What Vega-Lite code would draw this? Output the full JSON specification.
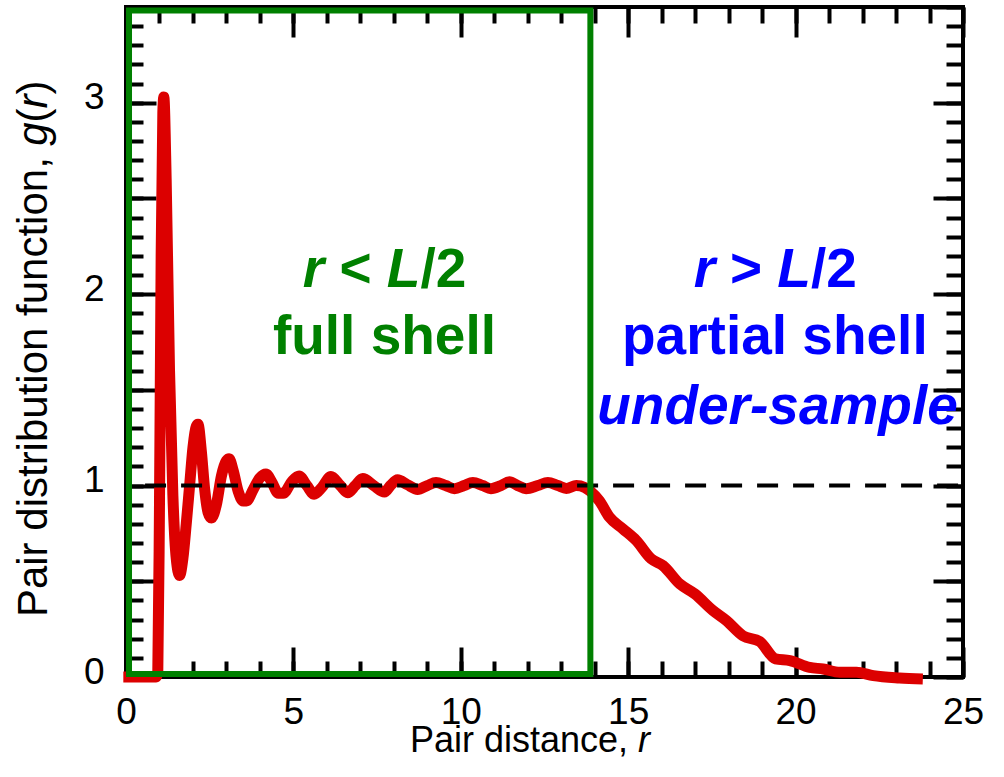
{
  "$schema": "https://vega.github.io/schema/vega-lite/v6.json",
  "width": 837,
  "height": 670,
  "autosize": {"type": "none"},
  "padding": {"left": 126, "top": 7, "right": 41, "bottom": 100},
  "background": "white",
  "config": {
    "font": "Liberation Sans",
    "view": {"stroke": "black", "strokeWidth": 4},
    "axis": {
      "labelFont": "Liberation Sans",
      "labelFontSize": 37,
      "labelColor": "black",
      "tickColor": "black",
      "tickWidth": 4,
      "domain": false,
      "grid": false,
      "title": null,
      "labelFlush": false,
      "labelOverlap": false
    }
  },
  "datasets": {
    "gr": [
      {"r": -0.08, "g": 0}, {"r": 0.5, "g": 0}, {"r": 0.9, "g": 0}, {"r": 0.95, "g": 0.03},
      {"r": 1.0, "g": 0.9}, {"r": 1.05, "g": 2.2}, {"r": 1.1, "g": 2.95}, {"r": 1.13, "g": 3.03},
      {"r": 1.2, "g": 2.6}, {"r": 1.3, "g": 1.6}, {"r": 1.4, "g": 0.95}, {"r": 1.5, "g": 0.62},
      {"r": 1.6, "g": 0.53}, {"r": 1.7, "g": 0.62}, {"r": 1.8, "g": 0.8}, {"r": 1.9, "g": 1.0},
      {"r": 2.0, "g": 1.2}, {"r": 2.1, "g": 1.31}, {"r": 2.15, "g": 1.32}, {"r": 2.25, "g": 1.18},
      {"r": 2.35, "g": 0.98}, {"r": 2.45, "g": 0.86}, {"r": 2.55, "g": 0.83}, {"r": 2.7, "g": 0.9},
      {"r": 2.85, "g": 1.05}, {"r": 3.0, "g": 1.13}, {"r": 3.08, "g": 1.14}, {"r": 3.2, "g": 1.08},
      {"r": 3.35, "g": 0.97}, {"r": 3.5, "g": 0.92}, {"r": 3.6, "g": 0.92}, {"r": 3.8, "g": 0.98},
      {"r": 4.0, "g": 1.04}, {"r": 4.18, "g": 1.06}, {"r": 4.35, "g": 1.02}, {"r": 4.55, "g": 0.96},
      {"r": 4.7, "g": 0.96}, {"r": 4.95, "g": 1.02}, {"r": 5.17, "g": 1.05}, {"r": 5.4, "g": 1.0},
      {"r": 5.62, "g": 0.955}, {"r": 5.85, "g": 0.99}, {"r": 6.12, "g": 1.047}, {"r": 6.4, "g": 1.0},
      {"r": 6.62, "g": 0.963}, {"r": 6.85, "g": 1.0}, {"r": 7.07, "g": 1.037}, {"r": 7.4, "g": 1.0},
      {"r": 7.72, "g": 0.966}, {"r": 7.9, "g": 1.0}, {"r": 8.11, "g": 1.03}, {"r": 8.4, "g": 1.005},
      {"r": 8.71, "g": 0.98}, {"r": 9.0, "g": 1.0}, {"r": 9.26, "g": 1.016}, {"r": 9.55, "g": 1.0},
      {"r": 9.81, "g": 0.984}, {"r": 10.1, "g": 1.0}, {"r": 10.36, "g": 1.016}, {"r": 10.65, "g": 1.0},
      {"r": 10.9, "g": 0.984}, {"r": 11.2, "g": 1.0}, {"r": 11.45, "g": 1.02}, {"r": 11.7, "g": 1.0},
      {"r": 11.95, "g": 0.984}, {"r": 12.3, "g": 1.0}, {"r": 12.6, "g": 1.016}, {"r": 12.9, "g": 1.0},
      {"r": 13.15, "g": 0.985}, {"r": 13.45, "g": 1.0}, {"r": 13.7, "g": 0.99}, {"r": 13.87, "g": 0.97},
      {"r": 14.14, "g": 0.92}, {"r": 14.44, "g": 0.835}, {"r": 14.84, "g": 0.774}, {"r": 15.24, "g": 0.713},
      {"r": 15.69, "g": 0.617}, {"r": 16.04, "g": 0.582}, {"r": 16.54, "g": 0.486}, {"r": 16.99, "g": 0.434},
      {"r": 17.53, "g": 0.347}, {"r": 17.93, "g": 0.295}, {"r": 18.43, "g": 0.215}, {"r": 18.93, "g": 0.185},
      {"r": 19.4, "g": 0.095}, {"r": 19.83, "g": 0.086}, {"r": 20.42, "g": 0.05}, {"r": 20.82, "g": 0.042},
      {"r": 21.32, "g": 0.025}, {"r": 21.82, "g": 0.025}, {"r": 22.32, "g": 0.007}, {"r": 23.1, "g": -0.005},
      {"r": 23.8, "g": -0.01}
    ],
    "unity": [{"r": 0.57, "g": 1}, {"r": 24.95, "g": 1}],
    "half": [{"r0": 0.09, "r1": 13.87, "g0": 0.016, "g1": 3.482}],
    "notes": [
      {"role": "shell", "side": "inner", "r": 7.72, "g": 1.686, "text": "full shell"},
      {"role": "shell", "side": "outer", "r": 19.38, "g": 1.686, "text": "partial shell"},
      {"role": "sample", "side": "outer", "r": 19.46, "g": 1.324, "text": "under-sample"},
      {"role": "symbol", "side": "inner", "r": 5.278, "g": 2.037, "text": "r"},
      {"role": "operator", "side": "inner", "r": 6.374, "g": 2.037, "text": "<"},
      {"role": "symbol", "side": "inner", "r": 7.787, "g": 2.037, "text": "L"},
      {"role": "operator", "side": "inner", "r": 8.793, "g": 2.037, "text": "/2"},
      {"role": "symbol", "side": "outer", "r": 16.959, "g": 2.037, "text": "r"},
      {"role": "operator", "side": "outer", "r": 18.038, "g": 2.037, "text": ">"},
      {"role": "symbol", "side": "outer", "r": 19.453, "g": 2.037, "text": "L"},
      {"role": "operator", "side": "outer", "r": 20.457, "g": 2.037, "text": "/2"}
    ],
    "titles": [
      {"axis": "x", "style": "upright", "r": 8.483, "g": -0.392, "text": "Pair distance,"},
      {"axis": "x", "style": "italic", "r": 15.296, "g": -0.392, "text": "r"},
      {"axis": "y", "style": "upright", "r": -2.36, "g": 0.313, "text": "Pair distribution function,"},
      {"axis": "y", "style": "italic", "r": -2.36, "g": 2.775, "text": "g"},
      {"axis": "y", "style": "upright", "r": -2.36, "g": 2.897, "text": "("},
      {"axis": "y", "style": "italic", "r": -2.36, "g": 2.97, "text": "r"},
      {"axis": "y", "style": "upright", "r": -2.36, "g": 3.043, "text": ")"}
    ]
  },
  "resolve": {
    "scale": {"x": "shared", "y": "shared"},
    "axis": {"x": "independent", "y": "independent"}
  },
  "layer": [
    {
      "data": {"name": "gr"},
      "mark": {"type": "line", "color": "#dc0000", "strokeWidth": 11, "interpolate": "monotone", "clip": false},
      "encoding": {
        "x": {"field": "r", "type": "quantitative", "scale": {"domain": [0, 25], "nice": false, "zero": false},
              "axis": {"orient": "bottom", "values": [0, 5, 10, 15, 20, 25], "ticks": false, "labelPadding": 17}},
        "y": {"field": "g", "type": "quantitative", "scale": {"domain": [0, 3.5], "nice": false, "zero": false},
              "axis": {"orient": "left", "values": [0, 1, 2, 3], "ticks": false, "labelPadding": 22, "labelOffset": -5}}
      }
    },
    {
      "data": {"name": "unity"},
      "mark": {"type": "line", "color": "black", "strokeWidth": 4, "strokeDash": [21, 15]},
      "encoding": {
        "x": {"field": "r", "type": "quantitative", "scale": {"domain": [0, 25], "nice": false, "zero": false},
              "axis": {"orient": "bottom", "values": [0, 5, 10, 15, 20, 25], "tickSize": -30, "labels": false}},
        "y": {"field": "g", "type": "quantitative", "scale": {"domain": [0, 3.5], "nice": false, "zero": false},
              "axis": {"orient": "left", "values": [0, 0.5, 1, 1.5, 2, 2.5, 3, 3.5], "tickSize": -30, "labels": false}}
      }
    },
    {
      "data": {"name": "half"},
      "mark": {"type": "rect", "filled": false, "stroke": "#008000", "strokeWidth": 6},
      "encoding": {
        "x": {"field": "r0", "type": "quantitative", "scale": {"domain": [0, 25], "nice": false, "zero": false},
              "axis": {"orient": "bottom", "values": [0, 1, 2, 3, 4, 5, 6, 7, 8, 9, 10, 11, 12, 13, 14, 15, 16, 17, 18, 19, 20, 21, 22, 23, 24, 25], "tickSize": -16, "labels": false}},
        "x2": {"field": "r1"},
        "y": {"field": "g0", "type": "quantitative", "scale": {"domain": [0, 3.5], "nice": false, "zero": false},
              "axis": {"orient": "left", "values": [0, 0.1, 0.2, 0.3, 0.4, 0.5, 0.6, 0.7, 0.8, 0.9, 1, 1.1, 1.2, 1.3, 1.4, 1.5, 1.6, 1.7, 1.8, 1.9, 2, 2.1, 2.2, 2.3, 2.4, 2.5, 2.6, 2.7, 2.8, 2.9, 3, 3.1, 3.2, 3.3, 3.4, 3.5], "tickSize": -17, "labels": false}},
        "y2": {"field": "g1"}
      }
    },
    {
      "data": {"name": "notes"},
      "transform": [{"filter": "datum.role === 'shell'"}],
      "mark": {"type": "text", "fontSize": 55, "fontWeight": "bold", "align": "center", "baseline": "alphabetic"},
      "encoding": {
        "x": {"field": "r", "type": "quantitative", "scale": {"domain": [0, 25], "nice": false, "zero": false},
              "axis": {"orient": "top", "values": [0, 5, 10, 15, 20, 25], "tickSize": -30, "labels": false}},
        "y": {"field": "g", "type": "quantitative", "scale": {"domain": [0, 3.5], "nice": false, "zero": false},
              "axis": {"orient": "right", "values": [0, 0.5, 1, 1.5, 2, 2.5, 3, 3.5], "tickSize": -30, "labels": false}},
        "text": {"field": "text"},
        "color": {"field": "side", "type": "nominal", "scale": {"domain": ["inner", "outer"], "range": ["#008000", "#0000ff"]}, "legend": null}
      }
    },
    {
      "data": {"name": "notes"},
      "transform": [{"filter": "datum.role === 'symbol'"}],
      "mark": {"type": "text", "fontSize": 55, "fontWeight": "bold", "fontStyle": "italic", "align": "left", "baseline": "alphabetic"},
      "encoding": {
        "x": {"field": "r", "type": "quantitative", "scale": {"domain": [0, 25], "nice": false, "zero": false},
              "axis": {"orient": "top", "values": [0, 1, 2, 3, 4, 5, 6, 7, 8, 9, 10, 11, 12, 13, 14, 15, 16, 17, 18, 19, 20, 21, 22, 23, 24, 25], "tickSize": -16, "labels": false}},
        "y": {"field": "g", "type": "quantitative", "scale": {"domain": [0, 3.5], "nice": false, "zero": false},
              "axis": {"orient": "right", "values": [0, 0.1, 0.2, 0.3, 0.4, 0.5, 0.6, 0.7, 0.8, 0.9, 1, 1.1, 1.2, 1.3, 1.4, 1.5, 1.6, 1.7, 1.8, 1.9, 2, 2.1, 2.2, 2.3, 2.4, 2.5, 2.6, 2.7, 2.8, 2.9, 3, 3.1, 3.2, 3.3, 3.4, 3.5], "tickSize": -17, "labels": false}},
        "text": {"field": "text"},
        "color": {"field": "side", "type": "nominal", "scale": {"domain": ["inner", "outer"], "range": ["#008000", "#0000ff"]}, "legend": null}
      }
    },
    {
      "data": {"name": "notes"},
      "transform": [{"filter": "datum.role === 'operator'"}],
      "mark": {"type": "text", "fontSize": 55, "fontWeight": "bold", "align": "left", "baseline": "alphabetic"},
      "encoding": {
        "x": {"field": "r", "type": "quantitative", "scale": {"domain": [0, 25], "nice": false, "zero": false}, "axis": null},
        "y": {"field": "g", "type": "quantitative", "scale": {"domain": [0, 3.5], "nice": false, "zero": false}, "axis": null},
        "text": {"field": "text"},
        "color": {"field": "side", "type": "nominal", "scale": {"domain": ["inner", "outer"], "range": ["#008000", "#0000ff"]}, "legend": null}
      }
    },
    {
      "data": {"name": "notes"},
      "transform": [{"filter": "datum.role === 'sample'"}],
      "mark": {"type": "text", "fontSize": 55, "fontWeight": "bold", "fontStyle": "italic", "align": "center", "baseline": "alphabetic"},
      "encoding": {
        "x": {"field": "r", "type": "quantitative", "scale": {"domain": [0, 25], "nice": false, "zero": false}, "axis": null},
        "y": {"field": "g", "type": "quantitative", "scale": {"domain": [0, 3.5], "nice": false, "zero": false}, "axis": null},
        "text": {"field": "text"},
        "color": {"field": "side", "type": "nominal", "scale": {"domain": ["inner", "outer"], "range": ["#008000", "#0000ff"]}, "legend": null}
      }
    },
    {
      "data": {"name": "titles"},
      "transform": [{"filter": "datum.axis === 'x' && datum.style === 'upright'"}],
      "mark": {"type": "text", "fontSize": 36, "color": "black", "align": "left", "baseline": "alphabetic"},
      "encoding": {
        "x": {"field": "r", "type": "quantitative", "scale": {"domain": [0, 25], "nice": false, "zero": false}, "axis": null},
        "y": {"field": "g", "type": "quantitative", "scale": {"domain": [0, 3.5], "nice": false, "zero": false}, "axis": null},
        "text": {"field": "text"}
      }
    },
    {
      "data": {"name": "titles"},
      "transform": [{"filter": "datum.axis === 'x' && datum.style === 'italic'"}],
      "mark": {"type": "text", "fontSize": 36, "fontStyle": "italic", "color": "black", "align": "left", "baseline": "alphabetic"},
      "encoding": {
        "x": {"field": "r", "type": "quantitative", "scale": {"domain": [0, 25], "nice": false, "zero": false}, "axis": null},
        "y": {"field": "g", "type": "quantitative", "scale": {"domain": [0, 3.5], "nice": false, "zero": false}, "axis": null},
        "text": {"field": "text"}
      }
    },
    {
      "data": {"name": "titles"},
      "transform": [{"filter": "datum.axis === 'y' && datum.style === 'upright'"}],
      "mark": {"type": "text", "fontSize": 42, "angle": 270, "color": "black", "align": "left", "baseline": "alphabetic"},
      "encoding": {
        "x": {"field": "r", "type": "quantitative", "scale": {"domain": [0, 25], "nice": false, "zero": false}, "axis": null},
        "y": {"field": "g", "type": "quantitative", "scale": {"domain": [0, 3.5], "nice": false, "zero": false}, "axis": null},
        "text": {"field": "text"}
      }
    },
    {
      "data": {"name": "titles"},
      "transform": [{"filter": "datum.axis === 'y' && datum.style === 'italic'"}],
      "mark": {"type": "text", "fontSize": 42, "angle": 270, "fontStyle": "italic", "color": "black", "align": "left", "baseline": "alphabetic"},
      "encoding": {
        "x": {"field": "r", "type": "quantitative", "scale": {"domain": [0, 25], "nice": false, "zero": false}, "axis": null},
        "y": {"field": "g", "type": "quantitative", "scale": {"domain": [0, 3.5], "nice": false, "zero": false}, "axis": null},
        "text": {"field": "text"}
      }
    }
  ]
}
